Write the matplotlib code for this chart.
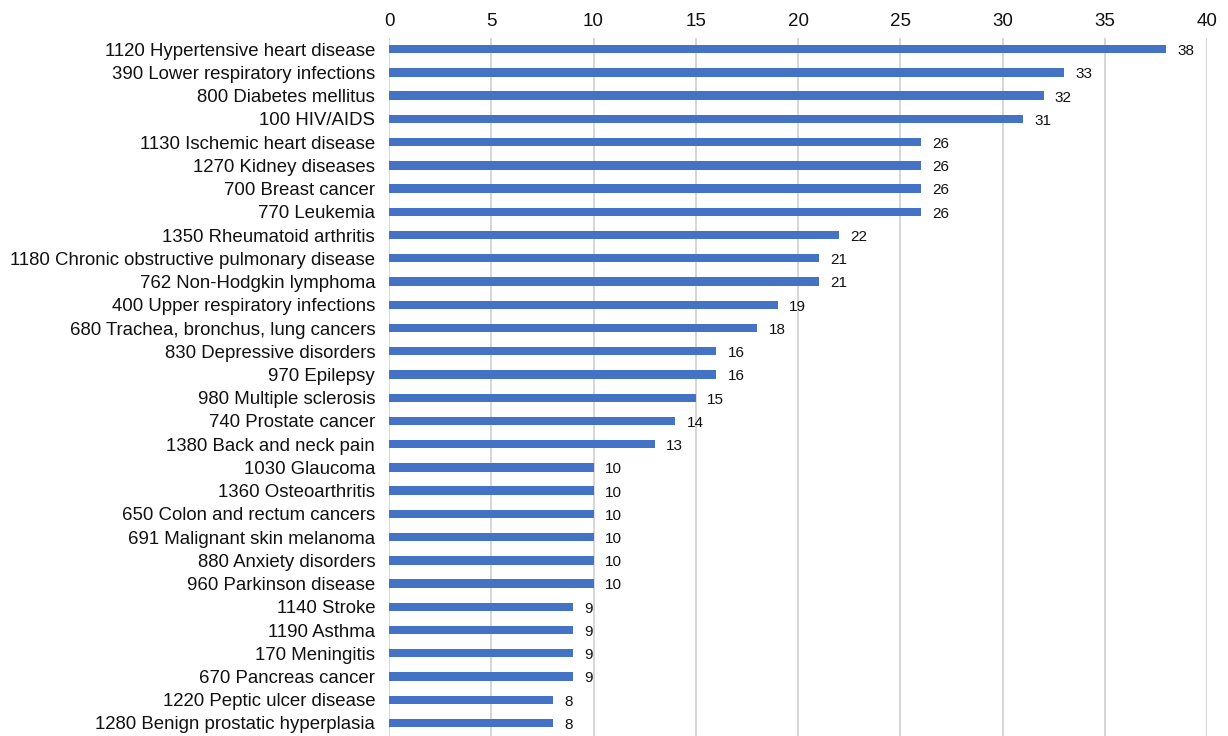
import matplotlib.pyplot as plt

plt.rcParams['font.family'] = ['Liberation Sans', 'DejaVu Sans']

causes = [
    '1120 Hypertensive heart disease',
    '390 Lower respiratory infections',
    '800 Diabetes mellitus',
    '100 HIV/AIDS',
    '1130 Ischemic heart disease',
    '1270 Kidney diseases',
    '700 Breast cancer',
    '770 Leukemia',
    '1350 Rheumatoid arthritis',
    '1180 Chronic obstructive pulmonary disease',
    '762 Non-Hodgkin lymphoma',
    '400 Upper respiratory infections',
    '680 Trachea, bronchus, lung cancers',
    '830 Depressive disorders',
    '970 Epilepsy',
    '980 Multiple sclerosis',
    '740 Prostate cancer',
    '1380 Back and neck pain',
    '1030 Glaucoma',
    '1360 Osteoarthritis',
    '650 Colon and rectum cancers',
    '691 Malignant skin melanoma',
    '880 Anxiety disorders',
    '960 Parkinson disease',
    '1140 Stroke',
    '1190 Asthma',
    '170 Meningitis',
    '670 Pancreas cancer',
    '1220 Peptic ulcer disease',
    '1280 Benign prostatic hyperplasia',
]
counts = [38, 33, 32, 31, 26, 26, 26, 26, 22, 21, 21, 19, 18, 16, 16, 15, 14, 13,
          10, 10, 10, 10, 10, 10, 9, 9, 9, 9, 8, 8]
xticks = [0, 5, 10, 15, 20, 25, 30, 35, 40]

fig = plt.figure(figsize=(12.28, 7.36), dpi=100)
ax = fig.add_axes([0.3168, 0.0, 0.983 - 0.3168, 0.948])

pos = list(range(len(causes)))
ax.barh(pos, counts, height=0.36, color='#4472C4', zorder=3)
for p, v in zip(pos, counts):
    ax.text(v + 0.55, p + 0.08, str(v), va='center', ha='left', fontsize=11, color='#111111')

ax.set_yticks(pos)
ax.set_yticklabels(causes, fontsize=13.4, color='#111111')
ax.set_ylim(len(causes) - 1 + 0.56, -0.47)

ax.set_xlim(0, 40)
ax.set_xticks(xticks)
ax.xaxis.tick_top()
ax.tick_params(axis='x', labelsize=13.5, length=0, pad=6, colors='#111111')
ax.tick_params(axis='y', length=0, pad=10)
ax.grid(axis='x', color='#D0D0D0', linewidth=1.2, zorder=0)
for s in ax.spines.values():
    s.set_visible(False)

fig.savefig('out.png', dpi=100)
